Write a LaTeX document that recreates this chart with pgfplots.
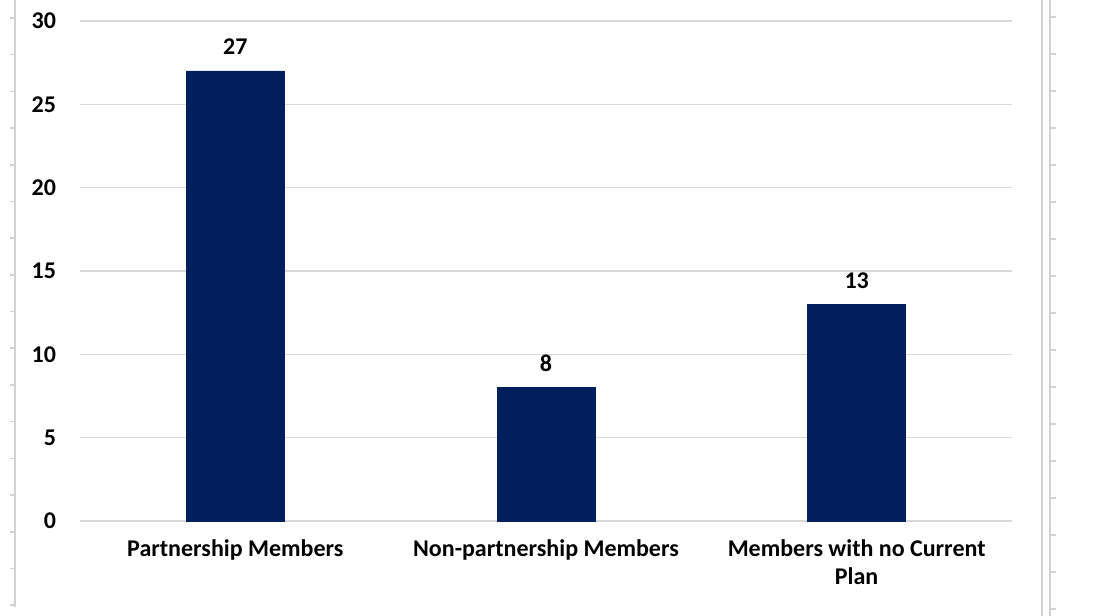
\documentclass[border=0pt]{standalone}
\usepackage{fontspec}
\setmainfont{Carlito}
\usepackage{pgfplots}
\pgfplotsset{compat=1.18}
\definecolor{navy}{RGB}{0,31,92}
\definecolor{gridgray}{RGB}{217,217,217}
\definecolor{sheetgray}{RGB}{210,210,210}
\begin{document}
\begin{tikzpicture}
\begin{axis}[
  name=ax,
  scale only axis,
  width=466pt, height=250pt,
  xmin=-0.5, xmax=2.5,
  ymin=0, ymax=30,
  ytick={0,5,...,30},
  xtick=data,
  xticklabels={Partnership Members, Non-partnership Members, {Members with no Current\\Plan}},
  xticklabel style={align=center, font=\bfseries\fontsize{12}{14}\selectfont, yshift=-6pt},
  yticklabel style={font=\bfseries\fontsize{12}{14}\selectfont, xshift=-8.5pt},
  /pgf/number format/assume math mode=true,
  ymajorgrids,
  grid style={gridgray, line width=0.75pt},
  axis line style={draw=none},
  major tick length=0pt,
  ybar,
  bar width=49pt,
  nodes near coords,
  every node near coord/.append style={font=\bfseries\fontsize{12}{14}\selectfont, anchor=center, yshift=12pt, text=black},
  clip=false,
]
\addplot[fill=navy, draw=navy] coordinates {(0,27) (1,8) (2,13)};
\end{axis}
\pgfresetboundingbox
\begin{scope}[shift={(ax.south west)}, x=0.5pt, y=-0.5pt, shift={(-80,-521)}]
\path[use as bounding box] (0,0) rectangle (1100,616);
\draw[sheetgray, line width=1pt] (15,0) -- (15,607);
\foreach \k in {0,...,16} {\draw[sheetgray, line width=0.8pt] (10,18+36.7*\k) -- (15,18+36.7*\k);}
\draw[sheetgray, line width=1pt] (1042,0) -- (1042,616);
\draw[sheetgray, line width=1pt] (1050,0) -- (1050,616);
\foreach \k in {0,...,16} {\draw[sheetgray, line width=0.8pt] (1050,17+37*\k) -- (1056,17+37*\k);}
\end{scope}
\end{tikzpicture}
\end{document}
